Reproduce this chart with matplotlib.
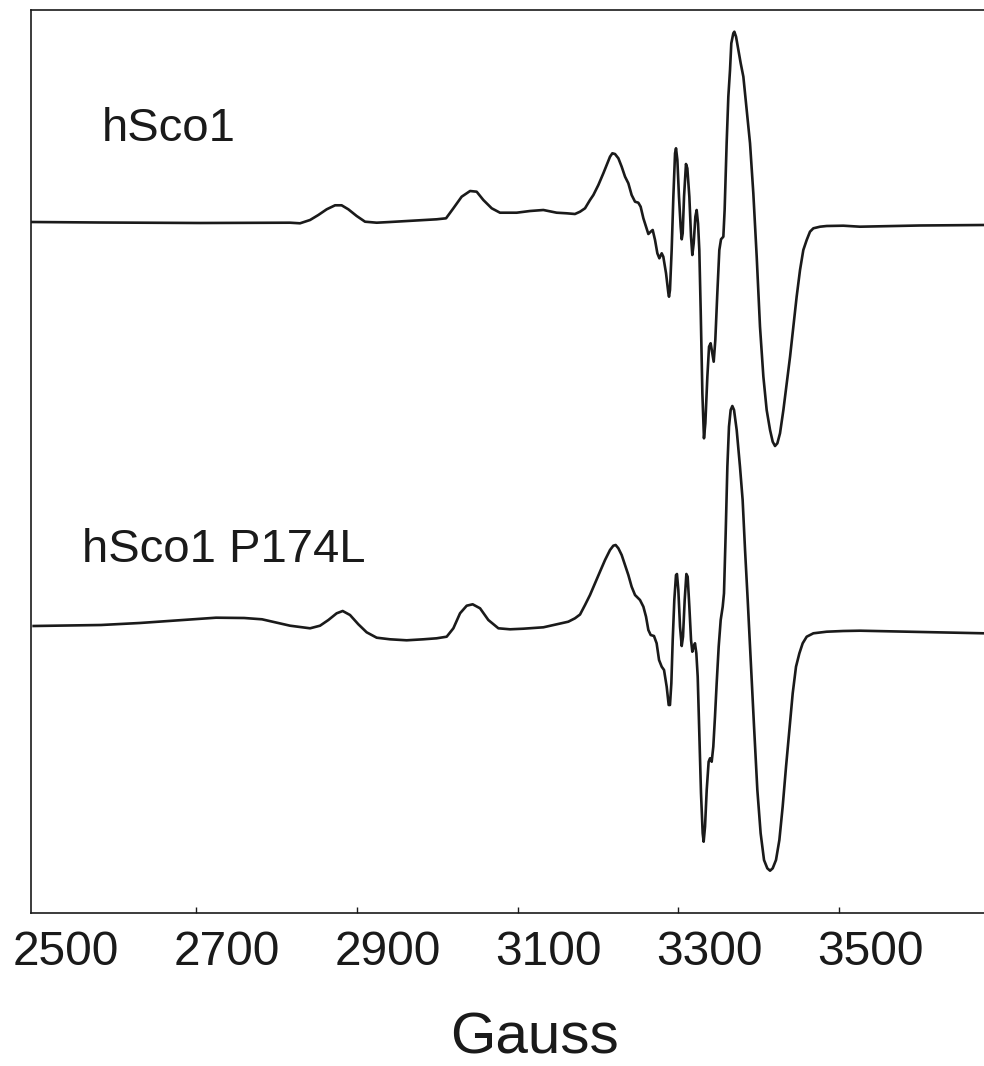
import matplotlib
matplotlib.use("Agg")
import matplotlib.pyplot as plt
from matplotlib.transforms import ScaledTranslation

plt.rcParams['font.family'] = ['Liberation Sans', 'DejaVu Sans']

# field (Gauss) and signal (arbitrary units, baseline = 0)
field_wt = [2495, 2580, 2705, 2817, 2829.4, 2841.9, 2852.2, 2862.6, 2873, 2881.2,
            2889.5, 2899.9, 2910.3, 2924.8, 2941.4, 2962.1, 2982.8, 2999.4, 3011.1, 3020.2,
            3030.5, 3041, 3049.2, 3057.5, 3067.9, 3078.2, 3099, 3115.6, 3132.2, 3148.7,
            3161.2, 3171.5, 3177.8, 3184, 3190.2, 3194.4, 3200.6, 3206.8, 3211, 3215.1,
            3218, 3221.3, 3225.5, 3229.6, 3233.8, 3237.9, 3242, 3246.2, 3250.3, 3253.2,
            3256.6, 3259.9, 3262.8, 3265.7, 3268.2, 3271.1, 3274, 3276.5, 3279.4, 3281.4,
            3284.8, 3287.7, 3288.5, 3289.7, 3291.8, 3293.9, 3296, 3297.2, 3298.9, 3300.9,
            3303, 3304.3, 3305.5, 3307.2, 3309.6, 3311.3, 3313.8, 3315.9, 3317.5, 3319.2,
            3321.3, 3322.9, 3324.6, 3326.2, 3327.9, 3330, 3332, 3333.7, 3336.2, 3338.3,
            3340.3, 3342.4, 3344.1, 3346.1, 3348.6, 3351.1, 3353.2, 3356.1, 3357.7, 3360.2,
            3362.3, 3364.4, 3366, 3368.5, 3369.8, 3371.9, 3374.8, 3377.7, 3381, 3384.3,
            3389.3, 3393.4, 3397.6, 3401.7, 3405.9, 3410, 3414.2, 3417.5, 3420.4, 3423.3,
            3426.6, 3430.8, 3434.9, 3439.1, 3443.2, 3447.3, 3451.5, 3455.6, 3459.8, 3463.9,
            3468.1, 3476.4, 3484.7, 3505.4, 3526.1, 3600, 3680]
signal_wt = [0, -0.5, -1, -0.7, -1.3, 2, 7, 12.7, 16.7, 16.7,
             12.7, 6, 0.3, -0.7, 0, 1, 2, 2.7, 3.7, 13.7,
             25.3, 31, 30.3, 22, 13.7, 9.3, 9.3, 11, 12, 9.3,
             8.7, 8, 10.3, 13.7, 22, 27, 37, 48.7, 57, 65.3,
             68.7, 68, 63.7, 55.3, 45.3, 38.7, 27, 20.3, 19.3, 15.3,
             3.7, -4.7, -12, -9.7, -8, -18, -31.3, -36.3, -31.3, -34.7,
             -51.3, -71.3, -74.7, -68, -28, 25.3, 68.7, 73.7, 62, 25.3,
             -4.7, -17.3, -11.3, 25.3, 58, 53.7, 25.3, -14.7, -33, -21.3,
             5.3, 12, -1.3, -28, -88, -171.3, -216.3, -201.3, -154.7, -124.7,
             -121.3, -131.3, -139.7, -118, -71.3, -28, -17.3, -14.7, 12, 78.7,
             125.3, 152, 178.7, 188.7, 190.3, 185.3, 172, 158.7, 145.3, 118.7,
             78.7, 28.7, -34.7, -104.7, -154.7, -188, -208, -219.7, -224, -221.3,
             -211.3, -188, -161.3, -134.7, -104.7, -74.7, -48, -28, -18, -9.7,
             -6.3, -4.7, -4, -3.7, -4.7, -3.5, -3]

field_mut = [2498, 2581.8, 2630, 2671.4, 2724.9, 2760, 2782.1, 2817, 2829.4, 2841.9,
             2854.3, 2864.7, 2875, 2882.5, 2891.6, 2902, 2912.3, 2924.8, 2941.4, 2962.1,
             2982.8, 2999.4, 3011.9, 3020.2, 3028.5, 3036.8, 3044.2, 3053.4, 3063.7, 3076.2,
             3090.7, 3107.3, 3132.2, 3148.7, 3163.2, 3171.5, 3177.8, 3184, 3190.2, 3196.4,
             3202.6, 3208.9, 3215.1, 3219.2, 3222.1, 3225.5, 3229.6, 3233.8, 3237.9, 3242,
             3246.2, 3252.4, 3256.6, 3259.9, 3262.8, 3265.7, 3269.8, 3273.1, 3276.1, 3279.4,
             3282.3, 3285.6, 3288.1, 3289.7, 3291.4, 3293.1, 3295.1, 3297.2, 3298.4, 3300.1,
             3302.2, 3304.3, 3305.9, 3308, 3310.1, 3311.7, 3313.8, 3315.9, 3317.5, 3319.2,
             3320.8, 3322.5, 3324.2, 3326.2, 3328.3, 3330.4, 3331.6, 3333.3, 3335.4, 3337.8,
             3339.5, 3341.6, 3343.6, 3345.7, 3347.8, 3350.3, 3352.8, 3355.3, 3356.9, 3359,
             3361.1, 3363.1, 3365.2, 3367.3, 3369.4, 3372.7, 3376.8, 3380.1, 3383.1, 3386.4,
             3390.1, 3394.3, 3398.4, 3402.5, 3406.7, 3410.8, 3414.2, 3417.5, 3421.6, 3425.8,
             3429.9, 3434.1, 3438.2, 3442.4, 3446.5, 3450.7, 3454.8, 3459.8, 3468.1, 3484.7,
             3505.4, 3526.1, 3600, 3680]
signal_mut = [0, 1, 3, 5.3, 8.3, 8, 6.7, 0.3, -1, -2.3,
              0.3, 6, 12.7, 15, 11, 1.7, -6.3, -11.7, -13.3, -14.3,
              -13.3, -12.3, -10.7, -2.3, 12.7, 20.3, 21.7, 17.7, 6, -2.3,
              -3.3, -2.7, -1.3, 1.7, 4.3, 7.7, 11.5, 21, 31, 42.7,
              54.3, 66, 76, 80.3, 81, 77.7, 71, 61, 51, 39.3,
              31, 26, 19.3, 9.3, -4, -9, -10, -17.3, -34, -40.7,
              -44, -60.7, -79, -79, -57.3, -14, 26, 51, 52, 36,
              -0.7, -20, -10.7, 26, 52, 49.3, 19.3, -14, -25.7, -20.7,
              -17.3, -27.3, -50.7, -107.3, -167.3, -207.3, -215.7, -200.7, -164, -135.7,
              -132.3, -135.7, -120.7, -90.7, -57.3, -20.7, 6, 19.3, 32.7, 92.7,
              159.3, 199.3, 216, 220, 216, 196, 159.3, 126, 76, 26,
              -34, -100.7, -164, -207.3, -234, -242.3, -244.7, -242.3, -234, -214,
              -180.7, -140.7, -104, -67.3, -40.7, -27.3, -17.3, -10.7, -7.3, -5.7,
              -5, -4.7, -6, -7.3]

tick_values = [2500, 2700, 2900, 3100, 3300, 3500]
tick_labels = ["2500", "2700", "2900", "3100", "3300", "3500"]

offset_wt = 691
offset_mut = 287
ink = '#1a1a1a'

fig = plt.figure(figsize=(9.84, 10.66), dpi=100)
ax = fig.add_axes([31 / 984, 153 / 1066, 953 / 984, 903 / 1066])

ax.plot(field_wt, [s + offset_wt for s in signal_wt], color=ink, lw=1.9,
        solid_joinstyle='round')
ax.plot(field_mut, [s + offset_mut for s in signal_mut], color=ink, lw=1.9,
        solid_joinstyle='round')

ax.text(2582.7, 772.3, "hSco1", fontsize=34, color=ink, va='baseline', ha='left')
ax.text(2557.8, 350.7, "hSco1 P174L", fontsize=34, color=ink, va='baseline', ha='left')

ax.set_xlim(2494.7, 3680.4)
ax.set_ylim(0, 903)
ax.set_yticks([])
ax.set_xticks(tick_values)
ax.set_xticklabels(tick_labels)
ax.tick_params(axis='x', direction='in', length=4, width=1, pad=12,
               labelsize=34.5, colors=ink)
ax.xaxis.get_major_ticks()[0].tick1line.set_visible(False)

for side in ['left', 'bottom', 'top']:
    ax.spines[side].set_linewidth(1.2)
    ax.spines[side].set_color(ink)
ax.spines['right'].set_visible(False)

# tick labels sit to the right of their ticks in the original
shift = ScaledTranslation(0.31, 0, fig.dpi_scale_trans)
for lab in ax.get_xticklabels():
    lab.set_transform(lab.get_transform() + shift)

fig.text(534.5 / 984, 12.7 / 1066, "Gauss", fontsize=42, color=ink,
         ha='center', va='baseline')

fig.savefig("out.png", dpi=100)
